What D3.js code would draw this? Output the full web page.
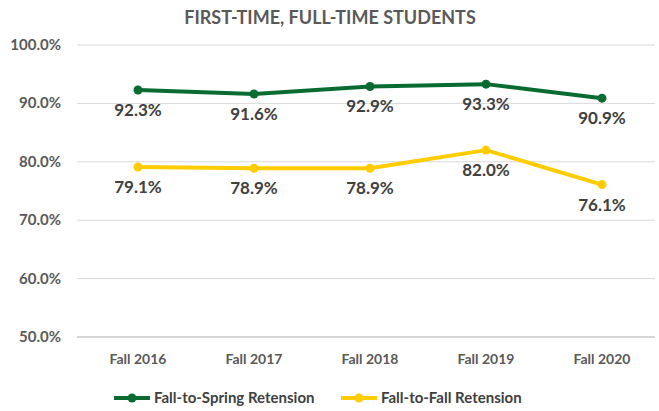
<!DOCTYPE html>
<html>
<head>
<meta charset="utf-8">
<script src="https://cdn.jsdelivr.net/npm/d3@7"></script>
<style>
  body { margin: 0; background: #fff; }
  text { font-family: Lato, "Open Sans", sans-serif; }
</style>
</head>
<body>
<div id="chart"></div>
<script>
var years = ["Fall 2016", "Fall 2017", "Fall 2018", "Fall 2019", "Fall 2020"];
var springRetention = [92.3, 91.6, 92.9, 93.3, 90.9];
var fallRetention = [79.1, 78.9, 78.9, 82.0, 76.1];
var yTicks = [50, 60, 70, 80, 90, 100];

var series = [
  { name: "Fall-to-Spring Retension", color: "#0a6b32", values: springRetention },
  { name: "Fall-to-Fall Retension", color: "#ffcc00", values: fallRetention }
];

var w = 659;
var h = 411;

var svg = d3.select("#chart")
  .append("svg")
  .attr("width", w)
  .attr("height", h);

var xScale = d3.scaleBand()
  .domain(years)
  .range([80, 660]);

var yScale = d3.scaleLinear()
  .domain([50, 100])
  .range([337, 45]);

svg.append("text")
  .attr("x", 330)
  .attr("y", 24)
  .attr("text-anchor", "middle")
  .attr("fill", "#595959")
  .style("font-size", "18px")
  .style("font-weight", "bold")
  .text("FIRST-TIME, FULL-TIME STUDENTS");

// gridlines
svg.selectAll("line.grid")
  .data(yTicks)
  .enter()
  .append("line")
  .attr("class", "grid")
  .attr("x1", 77)
  .attr("x2", 655)
  .attr("y1", function(d) { return yScale(d); })
  .attr("y2", function(d) { return yScale(d); })
  .attr("stroke", function(d) { return d == 50 ? "#c8c8c8" : "#d9d9d9"; })
  .attr("stroke-width", function(d) { return d == 50 ? 1.5 : 1; });

svg.selectAll("text.ytick")
  .data(yTicks)
  .enter()
  .append("text")
  .attr("class", "ytick")
  .attr("x", 61)
  .attr("y", function(d) { return yScale(d) + 5; })
  .attr("text-anchor", "end")
  .attr("fill", "#595959")
  .style("font-size", "15px")
  .style("font-weight", "bold")
  .text(function(d) { return d.toFixed(1) + "%"; });

svg.selectAll("text.xtick")
  .data(years)
  .enter()
  .append("text")
  .attr("class", "xtick")
  .attr("x", function(d) { return xScale(d) + xScale.bandwidth() / 2; })
  .attr("y", 364)
  .attr("text-anchor", "middle")
  .attr("fill", "#595959")
  .style("font-size", "14px")
  .style("font-weight", "bold")
  .text(function(d) { return d; });

var line = d3.line()
  .x(function(d, i) { return xScale(years[i]) + xScale.bandwidth() / 2; })
  .y(function(d) { return yScale(d); });

series.forEach(function(s) {
  var g = svg.append("g");
  g.append("path")
    .attr("d", line(s.values))
    .attr("fill", "none")
    .attr("stroke", s.color)
    .attr("stroke-width", 4)
    .attr("stroke-linejoin", "round");

  g.selectAll("circle")
    .data(s.values)
    .enter()
    .append("circle")
    .attr("cx", function(d, i) { return xScale(years[i]) + xScale.bandwidth() / 2; })
    .attr("cy", function(d) { return yScale(d); })
    .attr("r", 4.5)
    .attr("fill", s.color);

  g.selectAll("text")
    .data(s.values)
    .enter()
    .append("text")
    .attr("x", function(d, i) { return xScale(years[i]) + xScale.bandwidth() / 2; })
    .attr("y", function(d) { return yScale(d) + 26; })
    .attr("text-anchor", "middle")
    .attr("fill", "#404040")
    .style("font-size", "17px")
    .style("font-weight", "bold")
    .text(function(d) { return d.toFixed(1) + "%"; });
});

// legend
var legendX = [114, 341];
var legend = svg.selectAll("g.legend")
  .data(series)
  .enter()
  .append("g")
  .attr("class", "legend")
  .attr("transform", function(d, i) { return "translate(" + legendX[i] + ",398)"; });

legend.append("line")
  .attr("x1", 0)
  .attr("x2", 36)
  .attr("stroke", function(d) { return d.color; })
  .attr("stroke-width", 4);

legend.append("circle")
  .attr("cx", 18)
  .attr("r", 4.5)
  .attr("fill", function(d) { return d.color; });

legend.append("text")
  .attr("x", 40)
  .attr("y", 5)
  .attr("fill", "#404040")
  .style("font-size", "15px")
  .style("font-weight", "bold")
  .text(function(d) { return d.name; });
</script>
</body>
</html>
